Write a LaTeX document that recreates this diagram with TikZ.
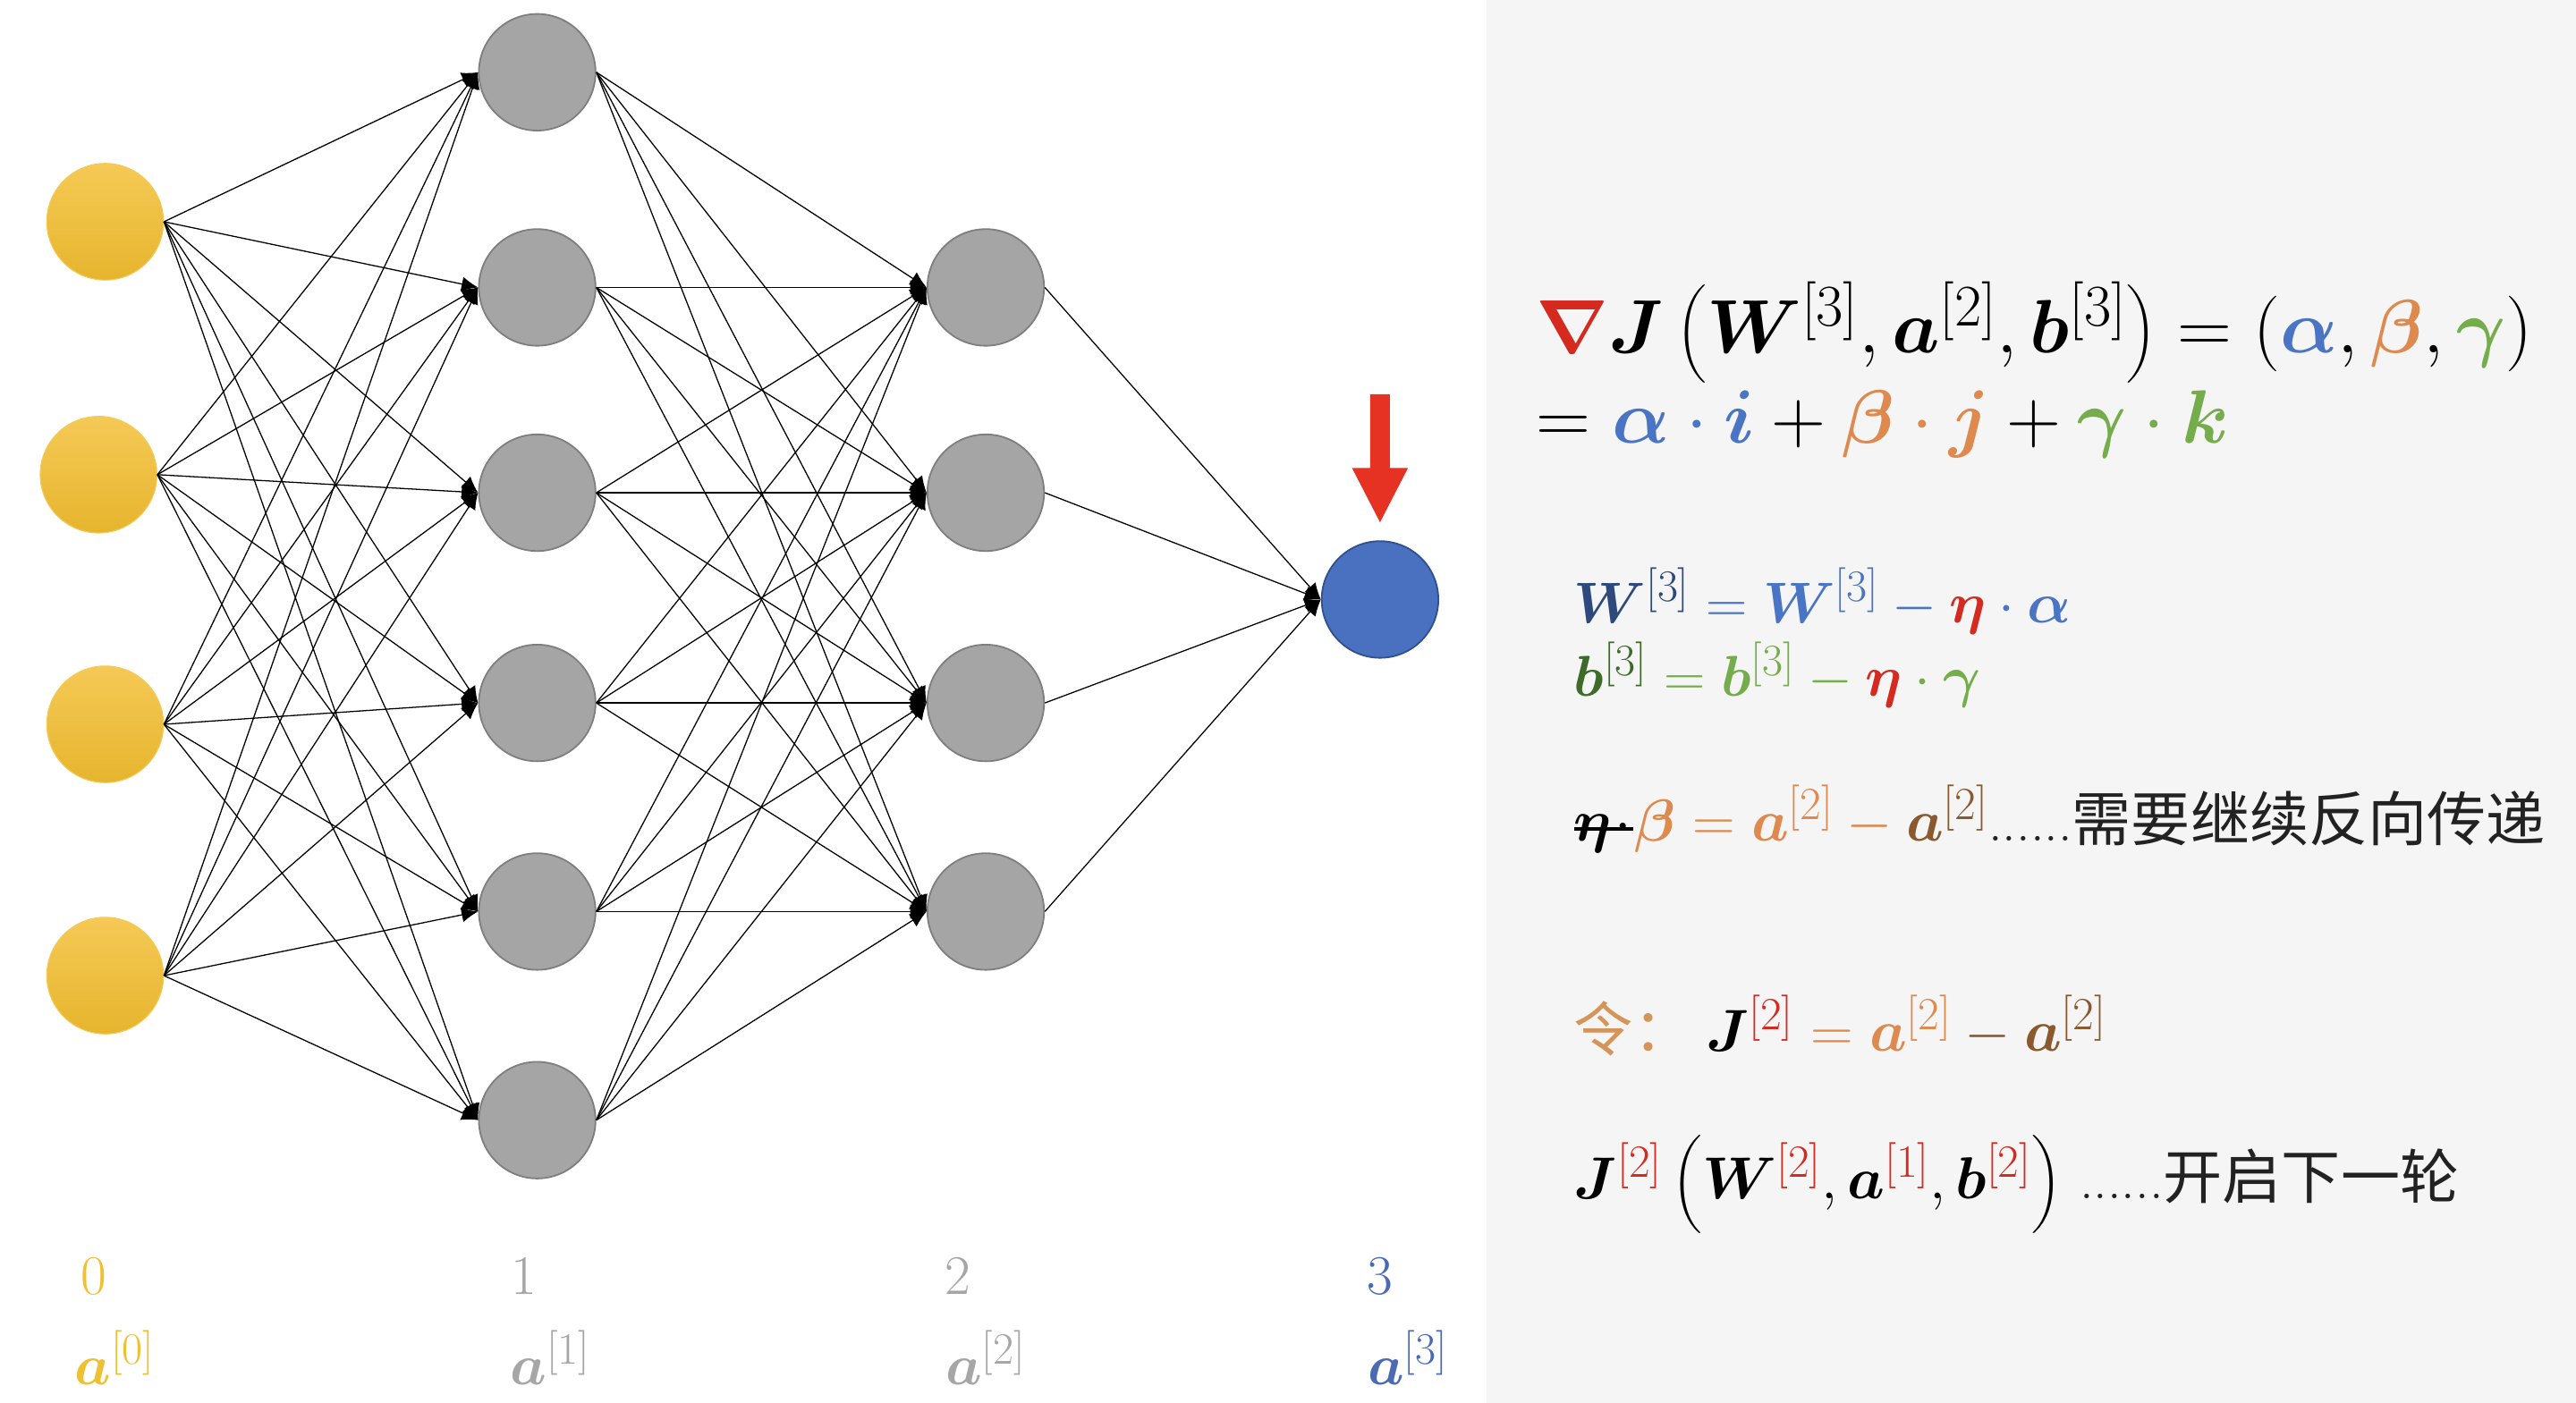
\RequirePackage{fix-cm}
\documentclass[tikz,border=0pt]{standalone}
\usepackage{amsmath,bm}
\usepackage{fontspec}
\newfontfamily\cjk{Noto Sans CJK SC}
\usetikzlibrary{arrows.meta}
\renewcommand\defaultscriptratio{.78}
\definecolor{nred}{HTML}{D42A20}
\definecolor{arrred}{HTML}{E63223}
\definecolor{cblue}{HTML}{4A74C4}
\definecolor{dblue}{HTML}{2E4A7D}
\definecolor{corange}{HTML}{DE8A4E}
\definecolor{lorange}{HTML}{D4955B}
\definecolor{cgreen}{HTML}{76AD4C}
\definecolor{dgreen}{HTML}{3E6B2A}
\definecolor{cbrown}{HTML}{8A5A2E}
\definecolor{ctext}{HTML}{222222}
\definecolor{panel}{HTML}{F5F5F5}
\definecolor{yelT}{HTML}{F5C955}
\definecolor{yelB}{HTML}{E6B52E}
\definecolor{cyel}{HTML}{F0C033}
\definecolor{gfill}{HTML}{A5A5A5}
\definecolor{gline}{HTML}{7F7F7F}
\definecolor{glabel}{HTML}{A6A6A6}
\definecolor{bfill}{HTML}{4A70C0}
\definecolor{bline}{HTML}{2F528F}
\definecolor{blabel}{HTML}{4A6BB3}
\newcommand\myfs[1]{\fontsize{#1}{#1}\selectfont}
\begin{document}
\begin{tikzpicture}[x=1pt,y=-1pt,
  neuron/.style={circle,minimum size=71pt,inner sep=0pt},
  yel/.style={neuron,top color=yelT,bottom color=yelB,draw=yelT,line width=0.6pt},
  gry/.style={neuron,fill=gfill,draw=gline,line width=1pt},
  blu/.style={neuron,fill=bfill,draw=bline,line width=1pt},
  conn/.style={draw=black,line width=0.7pt,-{Latex[length=10pt,width=9pt]}},
  eqn/.style={anchor=base west,inner sep=0pt},
  lbl/.style={anchor=base,inner sep=0pt}]
\useasboundingbox (0,0) rectangle (1568,854);
\fill[white] (0,0) rectangle (905,854);
\fill[panel] (905,0) rectangle (1568,854);
% neurons
\foreach \i/\x/\y in {1/64/135,2/60/289,3/64/441,4/64/594}
  \node[yel] (a\i) at (\x,\y) {};
\foreach \i/\y in {1/44,2/175,3/300,4/428,5/555,6/682}
  \node[gry] (b\i) at (327,\y) {};
\foreach \i/\y in {1/175,2/300,3/428,4/555}
  \node[gry] (c\i) at (600,\y) {};
\node[blu] (d1) at (840,365) {};
% connections
\foreach \i in {1,...,4}
  \foreach \j in {1,...,6}
    \draw[conn] (a\i.east) -- (b\j.west);
\foreach \i in {1,...,6}
  \foreach \j in {1,...,4}
    \draw[conn] (b\i.east) -- (c\j.west);
\foreach \i in {1,...,4}
  \draw[conn] (c\i.east) -- (d1.west);
% red arrow
\fill[arrred] (834,240) -- (846,240) -- (846,285) -- (857,285) -- (840,318) -- (823,285) -- (834,285) -- cycle;
% layer labels
\node[lbl] (n0) at (57,788) {\myfs{34}\color{cyel}0};
\node[lbl] (n1) at (319,788) {\myfs{34}\color{glabel}1};
\node[lbl] (n2) at (583,788) {\myfs{34}\color{glabel}2};
\node[lbl] (n3) at (840,788) {\myfs{34}\color{blabel}3};
\node[lbl] (s0) at (70,843) {\myfs{35}\color{cyel}$\bm a^{[0]}$};
\node[lbl] (s1) at (335,843) {\myfs{35}\color{glabel}$\bm a^{[1]}$};
\node[lbl] (s2) at (600,843) {\myfs{35}\color{glabel}$\bm a^{[2]}$};
\node[lbl] (s3) at (857,843) {\myfs{35}\color{blabel}$\bm a^{[3]}$};
% equations
\node[eqn] (e1) at (935,215) {\myfs{46}$\textcolor{nred}{\bm\nabla}\bm J\left(\bm W^{[3]},\bm a^{[2]},\bm b^{[3]}\right)=(\textcolor{cblue}{\bm\alpha},\textcolor{corange}{\bm\beta},\textcolor{cgreen}{\bm\gamma})$};
\node[eqn] (e2) at (935,270) {\myfs{46}$={}\textcolor{cblue}{\bm\alpha\cdot\bm i}+\textcolor{corange}{\bm\beta\cdot\bm j}+\textcolor{cgreen}{\bm\gamma\cdot\bm k}$};
\node[eqn] (e3) at (958,379) {\myfs{35}$\textcolor{dblue}{\bm W^{[3]}}\mathrel{\color{cblue}=}\textcolor{cblue}{\bm W^{[3]}}\mathbin{\color{cblue}-}\textcolor{nred}{\bm\eta}\mathbin{\color{cblue}\cdot}\textcolor{cblue}{\bm\alpha}$};
\node[eqn] (e4) at (958,424) {\myfs{35}$\textcolor{dgreen}{\bm b^{[3]}}\mathrel{\color{cgreen}=}\textcolor{cgreen}{\bm b^{[3]}}\mathbin{\color{cgreen}-}\textcolor{nred}{\bm\eta}\mathbin{\color{cgreen}\cdot}\textcolor{cgreen}{\bm\gamma}$};
\node[eqn] (e5) at (958,512) {\myfs{36}$\makebox[0pt][l]{\rule[0.18em]{1.0em}{0.05em}}\bm\eta\!\cdot\!\textcolor{corange}{\bm\beta}\mathrel{\color{corange}=}\textcolor{corange}{\bm a^{[2]}}\mathbin{\color{corange}-}\textcolor{cbrown}{\bm a^{[2]}}$\color{ctext}\myfs{34}......\myfs{36}\cjk 需要继续反向传递};
\node[eqn] (e6) at (958,640) {\myfs{36}\color{lorange}\cjk 令：\ $\color{black}\bm J^{\color{nred}[2]}\mathrel{\color{corange}=}\textcolor{corange}{\bm a^{[2]}}\mathbin{\color{cbrown}-}\textcolor{cbrown}{\bm a^{[2]}}$};
\node[eqn] (e7) at (958,730) {\myfs{36}$\bm J^{\color{nred}[2]}\left(\bm W^{\color{nred}[2]},\bm a^{\color{nred}[1]},\bm b^{\color{nred}[2]}\right)$\ \color{ctext}\myfs{34}......\myfs{36}\cjk 开启下一轮};
\end{tikzpicture}
\end{document}
